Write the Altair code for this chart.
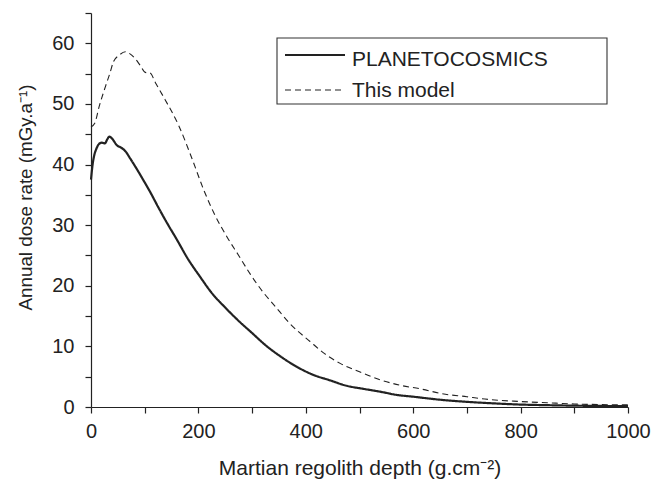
import altair as alt
import pandas as pd

series_names = ["PLANETOCOSMICS", "This model"]

planeto_depth = [0, 3, 6, 10, 15, 20, 26, 30, 34, 40, 48, 56, 64, 73, 85, 97, 110, 125, 140,
                 160, 180, 203, 225, 250, 275, 300, 325, 352, 380, 414, 445, 476, 507, 540,
                 569, 600, 650, 700, 750, 800, 850, 900, 950, 1000]
planeto_dose = [37.5, 40.0, 41.5, 42.6, 43.4, 43.6, 43.5, 44.1, 44.6, 44.2, 43.2, 42.8, 42.2,
                41.0, 39.3, 37.5, 35.5, 33.0, 30.6, 27.6, 24.5, 21.5, 18.8, 16.4, 14.2, 12.2,
                10.2, 8.4, 6.8, 5.3, 4.4, 3.5, 3.0, 2.5, 2.0, 1.7, 1.2, 0.85, 0.6, 0.4, 0.3,
                0.22, 0.17, 0.14]

model_depth = [0, 7, 15, 27, 35, 42, 52, 64, 72, 82, 92, 101, 110, 120, 138, 163, 188, 210,
               230, 253, 275, 296, 320, 343, 370, 408, 435, 464, 500, 538, 575, 613, 660, 700,
               724, 800, 850, 900, 950, 1000]
model_dose = [46.2, 46.8, 49.5, 52.9, 55.0, 57.0, 58.0, 58.6, 58.3, 57.5, 56.3, 55.2, 55.1,
              53.5, 50.7, 46.5, 41.0, 35.8, 31.8, 28.1, 25.0, 22.0, 19.0, 16.6, 13.8, 10.8,
              8.8, 7.2, 5.8, 4.5, 3.6, 3.0, 2.1, 1.7, 1.4, 0.9, 0.7, 0.5, 0.4, 0.35]

x_ticks = list(range(0, 1001, 100))
y_ticks = list(range(0, 66, 5))

df = pd.concat([
    pd.DataFrame({"depth": planeto_depth, "dose": planeto_dose, "series": series_names[0]}),
    pd.DataFrame({"depth": model_depth, "dose": model_dose, "series": series_names[1]}),
])
legend_df = pd.DataFrame({"series": series_names})

FONT = "Liberation Sans"
INK = "#222222"

dash_scale = alt.Scale(domain=series_names, range=[[1, 0], [6, 4]])
width_scale = alt.Scale(domain=series_names, range=[2.2, 1.1])

lines = alt.Chart(df).mark_line(color=INK, interpolate="monotone").encode(
    x=alt.X("depth:Q",
            scale=alt.Scale(domain=[0, 1000], nice=False),
            axis=alt.Axis(title="Martian regolith depth (g.cm⁻²)", values=x_ticks,
                          labelExpr="datum.value % 200 == 0 ? datum.label : ''",
                          format="d", titleY=67, titleBaseline="alphabetic",
                          labelFlush=False, labelPadding=8)),
    y=alt.Y("dose:Q",
            scale=alt.Scale(domain=[0, 65], nice=False),
            axis=alt.Axis(title="Annual dose rate (mGy.a⁻¹)", values=y_ticks,
                          labelExpr="datum.value % 10 == 0 ? datum.label : ''",
                          titleX=-60, titleY=184, titleBaseline="alphabetic",
                          labelFlush=False, labelPadding=11)),
    strokeDash=alt.StrokeDash("series:N", scale=dash_scale, legend=None),
    strokeWidth=alt.StrokeWidth("series:O", scale=width_scale, legend=None),
)

# legend drawn from the series list
legend_box = alt.Chart(legend_df.head(1)).mark_rect(
    filled=False, stroke="#333333", strokeWidth=1.1
).encode(
    x=alt.value(186), x2=alt.value(516), y=alt.value(25), y2=alt.value(91)
)

legend_layers = [legend_box]
row_line_y = [42, 77]
row_text_y = [52.5, 83.7]
for name, ly, ty in zip(series_names, row_line_y, row_text_y):
    base = alt.Chart(legend_df).transform_filter(alt.datum.series == name)
    legend_layers.append(
        base.mark_rule(color=INK).encode(
            x=alt.value(194), x2=alt.value(254), y=alt.value(ly),
            strokeDash=alt.StrokeDash("series:N", scale=dash_scale, legend=None),
            strokeWidth=alt.StrokeWidth("series:O", scale=width_scale, legend=None),
        )
    )
    legend_layers.append(
        base.mark_text(align="left", baseline="alphabetic", font=FONT, fontSize=21,
                       color=INK).encode(
            x=alt.value(261), y=alt.value(ty), text="series:N",
        )
    )

chart = alt.layer(lines, *legend_layers).properties(
    width=537,
    height=394,
    autosize=alt.AutoSizeParams(type="none"),
    padding={"left": 91, "top": 13, "right": 26, "bottom": 72},
).configure_view(
    stroke=None
).configure_axis(
    grid=False,
    domainColor=INK,
    domainWidth=1.2,
    tickColor=INK,
    tickWidth=1.2,
    tickSize=6,
    labelFont=FONT,
    labelFontSize=20,
    labelColor=INK,
    titleFont=FONT,
    titleFontWeight="normal",
    titleColor=INK,
).configure_axisX(
    titleFontSize=21,
).configure_axisY(
    titleFontSize=18.8,
)

chart.save("out.html", embed_options={"renderer": "svg", "actions": False})
